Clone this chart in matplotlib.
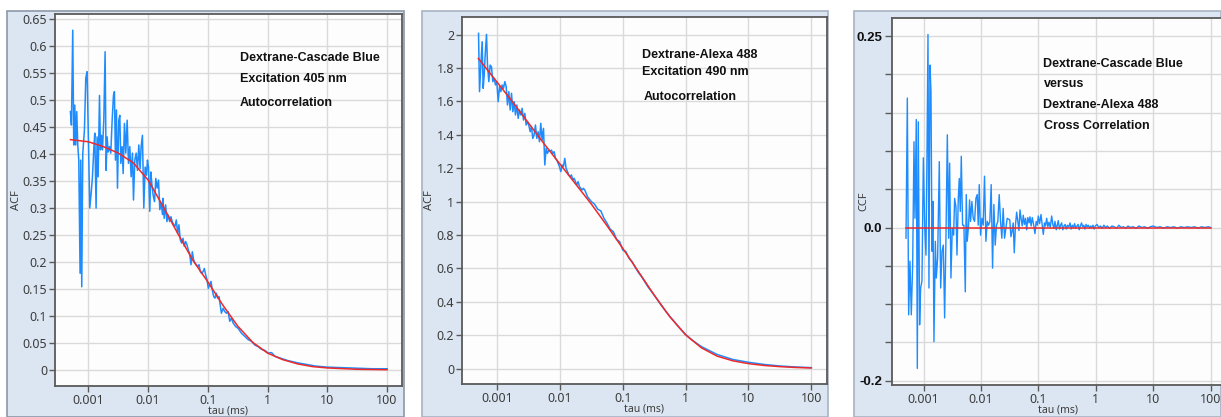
import numpy as np
import matplotlib.pyplot as plt
from matplotlib.patches import Rectangle

plt.rcParams['font.family'] = ['Noto Sans', 'DejaVu Sans']

# --- data (tau given as log10 of ms) ---
# panel 1: Dextrane-Cascade Blue autocorrelation
acf1_logtau = [-3.302, -3.285, -3.263, -3.246, -3.229, -3.213, -3.196, -3.179, -3.162, -3.140,
               -3.129, -3.112, -3.095, -3.067, -3.045, -3.023, -3.000, -2.978, -2.955, -2.933,
               -2.911, -2.894, -2.872, -2.855, -2.838, -2.815, -2.799, -2.782, -2.765, -2.743,
               -2.721, -2.704, -2.687, -2.670, -2.648, -2.626, -2.603, -2.581, -2.565, -2.548,
               -2.531, -2.514, -2.492, -2.475, -2.458, -2.436, -2.419, -2.397, -2.375, -2.352,
               -2.330, -2.308, -2.285, -2.263, -2.246, -2.224, -2.201, -2.179, -2.157, -2.135,
               -2.118, -2.096, -2.073, -2.051, -2.029, -2.012, -1.995, -1.973, -1.956, -1.939,
               -1.917, -1.894, -1.872, -1.850, -1.827, -1.805, -1.783, -1.760, -1.753, -1.731,
               -1.708, -1.686, -1.664, -1.641, -1.619, -1.597, -1.574, -1.552, -1.529, -1.507,
               -1.485, -1.462, -1.440, -1.417, -1.395, -1.373, -1.350, -1.328, -1.306, -1.283,
               -1.261, -1.239, -1.216, -1.194, -1.172, -1.149, -1.127, -1.105, -1.082, -1.060,
               -1.037, -1.015, -0.993, -0.970, -0.948, -0.926, -0.903, -0.881, -0.859, -0.836,
               -0.814, -0.774, -0.746, -0.718, -0.690, -0.662, -0.634, -0.606, -0.578, -0.534,
               -0.494, -0.438, -0.382, -0.326, -0.270, -0.214, -0.158, -0.102, -0.046, 0.010,
               0.066, 0.122, 0.177, 0.233, 0.289, 0.345, 0.500, 0.650, 0.800, 1.000,
               1.250, 1.500, 1.750, 2.000]
acf1_data = [0.479, 0.454, 0.630, 0.417, 0.491, 0.417, 0.479, 0.417, 0.389, 0.179,
             0.389, 0.154, 0.402, 0.445, 0.541, 0.553, 0.426, 0.300, 0.327, 0.358,
             0.408, 0.439, 0.300, 0.432, 0.358, 0.509, 0.408, 0.435, 0.408, 0.463,
             0.590, 0.370, 0.432, 0.404, 0.414, 0.402, 0.463, 0.509, 0.516, 0.389,
             0.482, 0.337, 0.463, 0.472, 0.383, 0.414, 0.364, 0.457, 0.402, 0.463,
             0.383, 0.414, 0.358, 0.402, 0.315, 0.389, 0.402, 0.370, 0.417, 0.373,
             0.414, 0.435, 0.300, 0.376, 0.361, 0.389, 0.376, 0.294, 0.367, 0.346,
             0.324, 0.312, 0.355, 0.337, 0.352, 0.297, 0.309, 0.288, 0.318, 0.281,
             0.306, 0.275, 0.287, 0.275, 0.284, 0.275, 0.269, 0.266, 0.278, 0.253,
             0.269, 0.241, 0.235, 0.244, 0.229, 0.238, 0.232, 0.222, 0.216, 0.195,
             0.219, 0.204, 0.198, 0.195, 0.192, 0.195, 0.182, 0.179, 0.182, 0.188,
             0.176, 0.167, 0.151, 0.158, 0.164, 0.148, 0.136, 0.133, 0.142, 0.133,
             0.136, 0.105, 0.114, 0.108, 0.105, 0.108, 0.090, 0.096, 0.087, 0.080,
             0.077, 0.068, 0.062, 0.056, 0.053, 0.046, 0.043, 0.038, 0.036, 0.031,
             0.032, 0.025, 0.023, 0.021, 0.019, 0.017, 0.013, 0.010, 0.007, 0.005,
             0.004, 0.003, 0.002, 0.002]
fit1_logtau = [-3.3, -3.0, -2.75, -2.5, -2.25, -2.0, -1.75, -1.5, -1.25, -1.0,
               -0.75, -0.5, -0.25, 0.0, 0.25, 0.5, 0.75, 1.0, 1.5, 2.0]
fit1 = [0.427, 0.423, 0.414, 0.402, 0.384, 0.352, 0.303, 0.252, 0.203, 0.163,
        0.120, 0.081, 0.051, 0.031, 0.019, 0.011, 0.006, 0.0035, 0.001, 0.0002]

# panel 2: Dextrane-Alexa 488 autocorrelation
acf2_logtau = [-3.297, -3.281, -3.260, -3.239, -3.223, -3.207, -3.191, -3.170, -3.154, -3.133,
               -3.112, -3.091, -3.069, -3.048, -3.027, -3.006, -2.984, -2.963, -2.942, -2.921,
               -2.900, -2.878, -2.857, -2.836, -2.815, -2.793, -2.772, -2.751, -2.730, -2.709,
               -2.687, -2.666, -2.645, -2.624, -2.603, -2.581, -2.560, -2.539, -2.518, -2.497,
               -2.475, -2.454, -2.433, -2.412, -2.391, -2.369, -2.348, -2.327, -2.306, -2.285,
               -2.263, -2.242, -2.221, -2.200, -2.178, -2.157, -2.136, -2.115, -2.094, -2.072,
               -2.051, -2.030, -2.009, -1.987, -1.966, -1.945, -1.924, -1.903, -1.881, -1.860,
               -1.839, -1.818, -1.796, -1.775, -1.754, -1.733, -1.712, -1.690, -1.669, -1.648,
               -1.627, -1.606, -1.584, -1.563, -1.542, -1.50, -1.45, -1.40, -1.35, -1.30,
               -1.25, -1.20, -1.15, -1.10, -1.05, -1.00, -0.95, -0.90, -0.85, -0.80,
               -0.75, -0.70, -0.60, -0.50, -0.40, -0.30, -0.20, -0.10, 0.00, 0.10,
               0.25, 0.50, 0.75, 1.00, 1.25, 1.50, 1.75, 2.00]
acf2_data = [2.008, 1.659, 1.818, 1.958, 1.679, 1.758, 1.878, 2.002, 1.818, 1.719,
             1.818, 1.808, 1.719, 1.739, 1.699, 1.719, 1.599, 1.689, 1.659, 1.699,
             1.679, 1.719, 1.689, 1.579, 1.659, 1.549, 1.649, 1.539, 1.599, 1.519,
             1.579, 1.499, 1.549, 1.519, 1.559, 1.489, 1.529, 1.459, 1.479, 1.459,
             1.419, 1.449, 1.379, 1.399, 1.459, 1.379, 1.419, 1.359, 1.469, 1.369,
             1.439, 1.220, 1.319, 1.289, 1.309, 1.303, 1.309, 1.289, 1.299, 1.259,
             1.249, 1.230, 1.210, 1.180, 1.220, 1.210, 1.259, 1.200, 1.180, 1.160,
             1.150, 1.160, 1.130, 1.140, 1.120, 1.100, 1.120, 1.090, 1.080, 1.070,
             1.080, 1.070, 1.050, 1.030, 1.020, 1.000, 0.985, 0.955, 0.945, 0.900,
             0.870, 0.835, 0.820, 0.775, 0.760, 0.710, 0.700, 0.660, 0.640, 0.605,
             0.575, 0.550, 0.490, 0.440, 0.385, 0.335, 0.290, 0.245, 0.205, 0.172,
             0.132, 0.085, 0.055, 0.038, 0.025, 0.016, 0.010, 0.006]
fit2_logtau = [-3.3, -3.0, -2.75, -2.5, -2.25, -2.0, -1.75, -1.5, -1.25, -1.0, -0.75,
               -0.5, -0.25, 0.0, 0.25, 0.5, 0.75, 1.0, 1.25, 1.5, 1.75, 2.0]
fit2 = [1.858, 1.715, 1.595, 1.470, 1.345, 1.225, 1.105, 0.985, 0.855, 0.720, 0.580,
        0.440, 0.310, 0.202, 0.125, 0.075, 0.047, 0.030, 0.019, 0.012, 0.007, 0.004]

# panel 3: cross correlation
ccf_logtau = [-3.308, -3.285, -3.262, -3.239, -3.216, -3.192, -3.169, -3.152, -3.129, -3.111,
              -3.094, -3.071, -3.053, -3.030, -3.006, -2.983, -2.960, -2.943, -2.925, -2.908,
              -2.890, -2.873, -2.855, -2.838, -2.821, -2.797, -2.780, -2.757, -2.728, -2.704,
              -2.681, -2.658, -2.635, -2.612, -2.588, -2.565, -2.548, -2.525, -2.502, -2.478,
              -2.461, -2.438, -2.420, -2.397, -2.380, -2.362, -2.345, -2.322, -2.299, -2.275,
              -2.258, -2.241, -2.218, -2.200, -2.183, -2.160, -2.137, -2.113, -2.090, -2.067,
              -2.050, -2.032, -2.009, -1.986, -1.963, -1.940, -1.916, -1.893, -1.870, -1.847,
              -1.824, -1.800, -1.777, -1.754, -1.731, -1.708, -1.684, -1.661, -1.638, -1.615,
              -1.591, -1.568, -1.545, -1.500, -1.480, -1.460, -1.440, -1.422, -1.400, -1.380,
              -1.360, -1.340, -1.322, -1.300, -1.283, -1.265, -1.245, -1.225, -1.206, -1.185,
              -1.165, -1.148, -1.128, -1.108, -1.085, -1.061, -1.040, -1.020, -1.003, -0.980,
              -0.956, -0.936, -0.916, -0.895, -0.877, -0.857, -0.837, -0.817, -0.795, -0.770,
              -0.750, -0.730, -0.713, -0.690, -0.670, -0.655, -0.635, -0.615, -0.596, -0.575,
              -0.555, -0.535, -0.515, -0.495, -0.470, -0.450, -0.430, -0.410, -0.390, -0.370,
              -0.350, -0.330, -0.310, -0.290, -0.270, -0.250, -0.230, -0.210, -0.190, -0.170,
              -0.150, -0.130, -0.110, -0.090, -0.070, -0.050, -0.030, -0.010, 0.020, 0.050,
              0.080, 0.110, 0.140, 0.170, 0.200, 0.240, 0.280, 0.320, 0.360, 0.400,
              0.440, 0.480, 0.520, 0.560, 0.600, 0.650, 0.700, 0.750, 0.800, 0.850,
              0.900, 0.950, 1.000, 1.060, 1.120, 1.180, 1.240, 1.300, 1.360, 1.420,
              1.480, 1.540, 1.600, 1.660, 1.720, 1.780, 1.840, 1.900, 1.960, 2.000]
ccf_data = [-0.014, 0.169, -0.114, -0.044, -0.114, -0.049, 0.112, 0.012, 0.141, -0.184,
            0.138, -0.127, -0.079, -0.070, 0.091, 0.003, -0.036, 0.091, 0.252, -0.079,
            0.212, 0.178, -0.031, 0.034, -0.149, -0.018, -0.066, -0.040, 0.086, -0.079,
            -0.031, -0.023, -0.118, -0.014, 0.121, -0.014, 0.084, -0.066, -0.001, -0.010,
            0.038, 0.027, -0.036, 0.038, 0.064, 0.021, 0.093, 0.003, 0.003, -0.084,
            0.043, -0.018, 0.003, 0.036, 0.008, 0.034, 0.012, 0.008, 0.038, 0.043,
            0.003, 0.056, -0.010, 0.012, 0.003, 0.067, -0.018, 0.008, 0.003, 0.008,
            0.056, -0.053, 0.030, -0.023, 0.003, 0.008, 0.043, 0.008, -0.014, 0.025,
            -0.014, -0.001, 0.012, 0.010, -0.012, -0.005, 0.006, -0.033, 0.004, 0.020,
            0.008, -0.004, 0.023, 0.010, 0.002, 0.016, 0.004, 0.012, -0.003, 0.013,
            0.006, 0.014, 0.002, 0.013, 0.004, -0.008, 0.008, 0.003, 0.015, 0.005,
            0.017, 0.004, -0.009, 0.006, 0.002, 0.012, 0.001, 0.007, 0.000, 0.015,
            0.004, -0.001, 0.008, -0.003, 0.004, 0.009, -0.002, 0.003, 0.006, -0.003,
            0.002, 0.004, -0.002, 0.003, 0.001, 0.006, -0.002, 0.003, 0.000, 0.005,
            -0.001, 0.002, 0.004, -0.003, 0.002, 0.006, 0.001, 0.003, -0.002, 0.004,
            0.001, 0.003, -0.001, 0.002, 0.000, 0.003, -0.002, 0.002, 0.004, 0.000,
            0.002, -0.001, 0.003, 0.000, 0.002, -0.001, 0.002, 0.001, -0.001, 0.003,
            0.000, 0.001, -0.001, 0.002, 0.000, 0.001, -0.001, 0.002, 0.000, 0.001,
            -0.001, 0.001, 0.002, 0.000, 0.001, -0.001, 0.001, 0.000, 0.001, -0.001,
            0.001, 0.000, 0.001, 0.000, 0.001, -0.001, 0.001, 0.000, 0.001, 0.000]
fit3_logtau = [-3.3, 2.0]
fit3 = [0.0, 0.0]

xtick_vals = [0.001, 0.01, 0.1, 1, 10, 100]
xtick_labels = ['0.001', '0.01', '0.1', '1', '10', '100']
y1_ticks = [0, 0.05, 0.1, 0.15, 0.2, 0.25, 0.3, 0.35, 0.4, 0.45, 0.5, 0.55, 0.6, 0.65]
y1_labels = ['0', '0.05', '0.1', '0.15', '0.2', '0.25', '0.3', '0.35', '0.4', '0.45',
             '0.5', '0.55', '0.6', '0.65']
y2_ticks = [0, 0.2, 0.4, 0.6, 0.8, 1.0, 1.2, 1.4, 1.6, 1.8, 2.0]
y2_labels = ['0', '0.2', '0.4', '0.6', '0.8', '1', '1.2', '1.4', '1.6', '1.8', '2']
y3_ticks = [-0.2, -0.15, -0.1, -0.05, 0.0, 0.05, 0.1, 0.15, 0.2, 0.25]
y3_labels = ['-0.2', '', '', '', '0.0', '', '', '', '', '0.25']

W, H = 1221, 417
BLUE = '#1e8cff'
RED = '#f02828'
PANEL_BG = '#dce6f2'
TXT = '#3c3c3c'

fig = plt.figure(figsize=(W / 100, H / 100), dpi=100)
fig.patch.set_facecolor('white')

# light blue window backgrounds of the three screenshots
for x0, x1, ec in [(7, 404, '#8c98a8'), (422, 828, '#a8b4c4'), (854, 1221, '#a8b4c4')]:
    fig.add_artist(Rectangle((x0 / W, 0), (x1 - x0) / W, 1 - 11 / H,
                             transform=fig.transFigure, facecolor=PANEL_BG,
                             edgecolor=ec, linewidth=1.2, zorder=0))


def px_axes(x0, x1, y0, y1):
    return fig.add_axes([x0 / W, 1 - y1 / H, (x1 - x0) / W, (y1 - y0) / H])


def style(ax, ylab, ylab_x):
    ax.set_facecolor('#fdfdfd')
    ax.set_xscale('log')
    ax.set_xlim(10 ** -3.56, 10 ** 2.25)
    ax.set_xticks(xtick_vals, xtick_labels)
    ax.minorticks_off()
    ax.grid(True, color='#dadada', linewidth=1.0)
    ax.set_axisbelow(True)
    for s in ax.spines.values():
        s.set_color('#5a5a5a')
        s.set_linewidth(1.3)
    ax.tick_params(direction='out', length=4, width=1, color='#5a5a5a',
                   labelsize=9, labelcolor=TXT, pad=1.5)
    ax.set_xlabel('tau (ms)', fontsize=7.5, color=TXT, labelpad=-0.5)
    ax.set_ylabel(ylab, fontsize=8, color=TXT)
    ax.yaxis.set_label_coords(ylab_x, 0.5)


# panel 1
ax1 = px_axes(55, 402, 14, 386)
style(ax1, 'ACF', -0.095)
ax1.plot(10 ** np.array(acf1_logtau), acf1_data, color=BLUE, lw=1.1)
ax1.plot(10 ** np.array(fit1_logtau), fit1, color=RED, lw=1.1)
ax1.set_ylim(-0.03, 0.66)
ax1.set_yticks(y1_ticks, y1_labels)

# panel 2
ax2 = px_axes(462, 827, 17, 384)
style(ax2, 'ACF', -0.074)
ax2.plot(10 ** np.array(acf2_logtau), acf2_data, color=BLUE, lw=1.1)
ax2.plot(10 ** np.array(fit2_logtau), fit2, color=RED, lw=1.1)
ax2.set_ylim(-0.092, 2.106)
ax2.set_yticks(y2_ticks, y2_labels)

# panel 3 (runs off the right edge of the screenshot)
ax3 = px_axes(892, 1225, 18, 385)
style(ax3, 'CCF', -0.069)
ax3.set_xlim(10 ** -3.552, 10 ** 2.25)
ax3.plot(10 ** np.array(ccf_logtau), ccf_data, color=BLUE, lw=1.0)
ax3.plot(10 ** np.array(fit3_logtau), fit3, color=RED, lw=1.1)
ax3.set_ylim(-0.2056, 0.2735)
ax3.set_yticks(y3_ticks, y3_labels)
ax3.tick_params(axis='y', length=5, pad=2, labelcolor='#111111')
for lab in ax3.get_yticklabels():
    lab.set_fontfamily(['Liberation Sans', 'DejaVu Sans'])
    lab.set_fontweight('bold')
    lab.set_fontsize(9.5)

# annotations
notes = [
    (240, 58, 'Dextrane-Cascade Blue'), (240, 79, 'Excitation 405 nm'), (240, 103, 'Autocorrelation'),
    (642, 55, 'Dextrane-Alexa 488'), (642, 72, 'Excitation 490 nm'), (644, 97, 'Autocorrelation'),
    (1043, 64, 'Dextrane-Cascade Blue'), (1044, 84, 'versus'), (1043, 105, 'Dextrane-Alexa 488'),
    (1044, 126, 'Cross Correlation'),
]
for x, y, s in notes:
    fig.text(x / W, 1 - y / H, s, ha='left', va='center', fontsize=9,
             fontweight='bold', color='#111111', family=['Liberation Sans', 'DejaVu Sans'])

fig.savefig('out.png', dpi=100)
